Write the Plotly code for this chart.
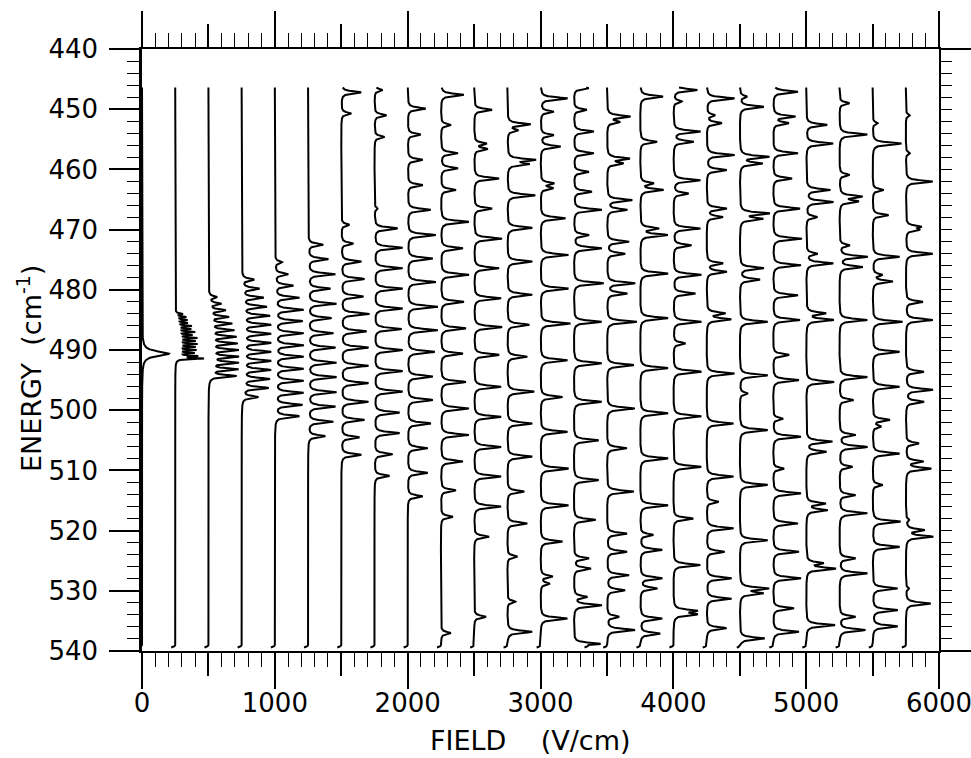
import numpy as np
import plotly.graph_objects as go

# Electric field at which each spectrum was recorded (V/cm)
fields = [0, 250, 500, 750, 1000, 1250, 1500, 1750, 2000, 2250, 2500, 2750,
          3000, 3250, 3500, 3750, 4000, 4250, 4500, 4750, 5000, 5250, 5500, 5750]

# Line positions (cm^-1) and peak signal (arb. units) for each spectrum
p0000 = [(490.6, 27)]
p0250 = [(484.0, 7), (484.5, 10), (485.0, 11), (485.5, 11), (486.0, 15), (486.5, 14),
         (487.0, 18), (487.5, 15), (488.0, 20), (488.5, 18), (489.0, 20), (489.5, 18),
         (490.0, 19), (490.5, 17), (491.0, 20), (491.4, 27)]
p0500 = [(481.2, 8), (482.3, 12), (483.4, 16), (484.5, 19), (485.6, 22), (486.7, 24),
         (487.8, 26), (488.9, 27), (490.0, 28), (491.1, 28), (492.1, 28), (493.2, 28),
         (494.3, 27)]
p0750 = [(478.3, 12), (479.8, 17), (481.3, 21), (482.8, 24), (484.3, 27), (485.8, 28),
         (487.3, 28), (488.8, 28), (490.3, 28), (491.8, 28), (493.3, 28), (494.8, 27),
         (496.3, 26), (497.8, 16)]
p1000 = [(475.4, 7), (477.4, 13), (479.3, 18), (481.3, 24), (483.3, 28), (485.2, 27),
         (487.2, 28), (489.2, 28), (491.1, 28), (493.1, 28), (495.1, 28), (497.1, 28),
         (499.1, 27), (501.0, 24)]
p1250 = [(472.5, 15), (474.9, 20), (477.4, 27), (479.8, 22), (482.3, 28), (484.7, 23),
         (487.2, 25), (489.6, 27), (492.1, 28), (494.5, 28), (497.0, 28), (499.4, 27),
         (501.9, 25), (504.3, 17)]
p1500 = [(447.2, 20), (450.7, 10), (469.2, 8), (472.3, 12), (475.3, 20), (478.2, 23),
         (481.1, 22), (484.0, 28), (486.9, 25), (489.6, 27), (492.6, 27), (495.5, 27),
         (498.6, 27), (501.6, 23), (504.5, 18), (507.4, 20)]
p1750 = [(446.8, 8), (451.0, 12), (454.6, 10), (466.5, 3), (469.8, 23), (473.0, 28),
         (476.4, 28), (479.8, 28), (483.1, 28), (486.5, 27), (490.0, 28), (493.5, 28),
         (496.9, 28), (500.4, 25), (503.8, 25), (507.3, 18), (510.9, 15)]
p2000 = [(449.9, 18), (454.2, 13), (458.4, 15), (462.6, 15), (466.7, 23), (470.9, 28),
         (474.8, 25), (478.7, 28), (482.8, 30), (486.7, 30), (490.3, 27), (494.4, 25),
         (498.3, 25), (502.2, 23), (506.3, 20), (510.4, 20), (514.3, 15)]
p2250 = [(447.6, 23), (452.6, 10), (457.3, 17), (459.8, 17), (463.4, 15), (468.7, 28),
         (473.1, 22), (477.5, 28), (482.0, 23), (486.4, 25), (490.6, 22), (495.3, 25),
         (499.7, 28), (504.1, 28), (508.5, 22), (513.3, 15), (517.7, 12), (537.0, 10)]
p2500 = [(450.1, 18), (455.7, 12), (456.6, 13), (461.5, 25), (466.5, 18), (471.5, 28),
         (476.4, 25), (481.4, 27), (486.2, 28), (490.8, 25), (496.1, 27), (501.1, 27),
         (506.1, 27), (511.0, 27), (516.0, 27), (521.0, 15), (534.3, 12)]
p2750 = [(452.5, 23), (453.5, 10), (458.4, 27), (459.1, 20), (464.3, 28), (469.7, 25),
         (475.3, 25), (480.8, 25), (485.8, 22), (491.1, 20), (496.9, 27), (502.2, 25),
         (507.7, 25), (513.5, 17), (518.8, 20), (524.3, 10), (531.8, 8), (536.8, 25)]
p3000 = [(448.2, 27), (450.4, 13), (454.3, 13), (456.2, 20), (462.3, 13), (463.1, 12),
         (468.1, 25), (474.2, 28), (479.8, 28), (485.6, 30), (491.7, 27), (497.8, 22),
         (503.6, 27), (509.7, 28), (515.8, 28), (521.8, 22), (527.6, 12), (528.8, 9),
         (534.6, 27)]
p3250 = [(446.5, 15), (450.1, 13), (453.7, 20), (457.3, 20), (460.4, 15), (463.7, 18),
         (466.7, 28), (470.9, 15), (473.1, 28), (478.9, 30), (485.3, 28), (492.2, 28),
         (498.6, 28), (505.0, 25), (511.6, 25), (518.2, 22), (524.6, 15), (526.3, 17),
         (531.0, 13), (532.4, 28), (538.8, 27)]
p3500 = [(451.2, 23), (452.1, 12), (458.2, 22), (459.0, 15), (465.1, 25), (466.7, 20),
         (472.0, 22), (474.0, 18), (478.9, 28), (480.6, 20), (485.3, 30), (492.5, 27),
         (499.7, 28), (506.3, 20), (513.5, 27), (520.5, 20), (523.5, 20), (527.4, 22),
         (529.9, 18), (534.3, 12), (536.5, 28)]
p3750 = [(447.9, 23), (455.4, 17), (462.3, 13), (463.4, 23), (469.8, 18), (470.9, 27),
         (477.3, 28), (484.7, 28), (493.0, 28), (500.5, 28), (508.0, 28), (515.8, 28),
         (520.7, 13), (523.2, 22), (527.9, 22), (529.6, 17), (534.6, 22), (537.1, 20)]
p4000 = [(446.8, 24), (448.7, 8), (453.7, 27), (455.4, 20), (461.8, 27), (464.0, 15),
         (469.8, 27), (472.6, 18), (477.5, 28), (480.6, 22), (485.3, 28), (488.9, 12),
         (493.6, 28), (501.0, 28), (509.4, 28), (518.0, 20), (525.7, 27), (533.3, 22),
         (533.9, 22)]
p4250 = [(448.2, 28), (451.0, 8), (452.3, 15), (457.6, 28), (460.1, 20), (466.5, 20),
         (467.9, 16), (475.6, 16), (477.0, 20), (483.9, 18), (484.9, 24), (493.9, 28),
         (502.2, 27), (511.0, 27), (515.2, 12), (519.6, 27), (523.5, 18), (527.9, 25),
         (531.3, 25), (536.2, 20)]
p4500 = [(447.9, 7), (449.6, 24), (457.9, 29), (459.0, 22), (467.3, 29), (468.2, 22),
         (476.4, 24), (478.3, 20), (485.3, 28), (494.2, 28), (497.2, 8), (503.3, 28),
         (512.4, 28), (521.6, 28), (529.6, 28), (530.4, 22), (537.9, 25)]
p4750 = [(447.1, 25), (451.2, 22), (452.3, 15), (457.3, 25), (461.5, 19), (466.5, 27),
         (471.5, 29), (475.9, 28), (480.9, 25), (485.0, 27), (490.8, 16), (495.0, 26),
         (501.4, 10), (504.4, 28), (509.7, 11), (513.8, 28), (518.8, 25), (523.5, 26),
         (527.9, 28), (532.9, 21), (536.8, 26)]
p5000 = [(452.6, 21), (455.7, 27), (463.4, 24), (465.4, 27), (467.9, 11), (474.0, 11),
         (475.6, 27), (483.9, 19), (485.0, 27), (495.3, 28), (505.2, 26), (506.9, 20),
         (515.5, 19), (516.6, 21), (525.4, 16), (526.3, 29), (535.7, 29)]
p5250 = [(449.0, 10), (454.2, 28), (460.9, 10), (464.5, 22), (465.3, 18), (472.6, 10),
         (474.5, 28), (476.2, 23), (485.0, 28), (494.5, 28), (498.3, 14), (504.1, 16),
         (506.1, 28), (509.4, 13), (514.1, 16), (517.1, 28), (524.6, 16), (527.1, 28),
         (534.3, 16), (536.5, 26)]
p5500 = [(452.3, 5), (455.7, 29), (463.4, 11), (467.6, 16), (474.5, 27), (477.5, 9),
         (478.6, 20), (485.3, 30), (490.3, 27), (496.1, 27), (501.6, 17), (502.7, 8),
         (507.2, 27), (512.4, 10), (518.5, 28), (522.7, 27), (529.6, 25), (533.2, 25),
         (535.9, 25)]
p5750 = [(451.0, 4), (457.3, 4), (462.0, 27), (469.5, 14), (470.0, 12), (474.0, 27),
         (482.0, 17), (485.0, 27), (493.6, 18), (496.6, 27), (498.6, 18), (505.5, 13),
         (508.5, 17), (509.7, 25), (518.2, 3), (519.9, 18), (521.0, 27), (529.6, 3),
         (532.1, 25)]

spectra = [p0000, p0250, p0500, p0750, p1000, p1250, p1500, p1750, p2000, p2250,
           p2500, p2750, p3000, p3250, p3500, p3750, p4000, p4250, p4500, p4750,
           p5000, p5250, p5500, p5750]

# Lorentzian half-width (cm^-1) of the lines in each spectrum
hwhm = [0.45, 0.11, 0.2, 0.22, 0.22, 0.22, 0.22, 0.22, 0.22, 0.22, 0.22, 0.22,
        0.22, 0.22, 0.22, 0.22, 0.22, 0.22, 0.22, 0.22, 0.22, 0.22, 0.22, 0.22]

# Axis ticks
energy_ticks = list(range(440, 541, 10))
field_ticks = list(range(0, 6001, 1000))
field_half_ticks = list(range(500, 6000, 1000))
field_minor_ticks = list(range(0, 6001, 100))

GAIN = 7.5            # V/cm of horizontal offset per unit of signal
E_START, E_END = 446.4, 539.0

fig = go.Figure()
energy = np.arange(E_START, E_END + 1e-9, 0.02)
for f, lines, g in zip(fields, spectra, hwhm):
    sig = np.zeros_like(energy)
    for e0, a in lines:
        sig += a * g * g / ((energy - e0) ** 2 + g * g)
    x = f + GAIN * sig
    # small leftward hook where the pen lifts at the end of each scan
    xs = np.concatenate([x, [x[-1] - 6, x[-1] - 18, x[-1] - 30]])
    ys = np.concatenate([energy, [E_END + 0.2, E_END + 0.35, E_END + 0.42]])
    fig.add_trace(go.Scatter(x=xs, y=ys, mode="lines",
                             line=dict(color="black", width=2),
                             hoverinfo="skip", showlegend=False))

FONT = "DejaVu Sans"
tick_font = dict(family=FONT, size=26, color="black")

fig.update_layout(
    width=971, height=758,
    margin=dict(l=142, r=32, t=49, b=107, autoexpand=False),
    paper_bgcolor="white", plot_bgcolor="white",
    showlegend=False,
    # main field axis: long ticks every 1000, short ticks every 100, mirrored on top
    xaxis=dict(range=[0, 6000], showgrid=False, zeroline=False,
               showline=True, linecolor="black", linewidth=2,
               automargin=False,
               ticks="outside", tickmode="array", tickvals=field_ticks,
               ticklen=36, tickwidth=1.6, tickcolor="black",
               mirror="ticks", showticklabels=False,
               minor=dict(tickmode="array", tickvals=field_minor_ticks,
                          ticks="outside", ticklen=14,
                          tickwidth=1.4, tickcolor="black")),
    # medium ticks at the half-thousands
    xaxis2=dict(range=[0, 6000], overlaying="x", anchor="y", side="bottom",
                showgrid=False, zeroline=False, showline=False,
                automargin=False,
                ticks="outside", tickmode="array", tickvals=field_half_ticks,
                ticklen=24, tickwidth=1.5, tickcolor="black", mirror="ticks",
                showticklabels=False),
    # field tick labels
    xaxis3=dict(range=[0, 6000], overlaying="x", anchor="y", side="bottom",
                showgrid=False, zeroline=False, showline=False,
                automargin=False,
                ticks="outside", tickmode="array", tickvals=field_ticks,
                ticktext=[str(v) for v in field_ticks],
                ticklen=29, tickwidth=1, tickcolor="rgba(0,0,0,0)",
                tickfont=tick_font, ticklabeloverflow="allow"),
    yaxis=dict(range=[540, 440], showgrid=False, zeroline=False,
               showline=True, linecolor="black", linewidth=2.5,
               automargin=False,
               ticks="outside", tickmode="array", tickvals=energy_ticks,
               ticktext=[str(v) for v in energy_ticks],
               ticklen=30, tickwidth=1.6, tickcolor="black",
               tickfont=tick_font, ticklabelstandoff=6,
               minor=dict(dtick=2, tick0=440, ticks="outside", ticklen=12,
                          tickwidth=1.4, tickcolor="black")),
    yaxis2=dict(range=[540, 440], overlaying="y", anchor="x", side="right",
                showgrid=False, zeroline=False, automargin=False,
                showline=True, linecolor="black", linewidth=2,
                ticks="outside", tick0=440, dtick=2, ticklen=11,
                tickwidth=1.4, tickcolor="black", showticklabels=False),
    shapes=[
        dict(type="line", xref="paper", yref="paper", x0=1, x1=1.05, y0=1, y1=1,
             line=dict(color="black", width=2)),
        dict(type="line", xref="paper", yref="paper", x0=1, x1=1.05, y0=0, y1=0,
             line=dict(color="black", width=2)),
    ],
    annotations=[
        dict(text="ENERGY\u00a0\u00a0(cm<sup>-1</sup>)", textangle=-90,
             xref="paper", yref="paper", x=-0.1418, y=0.47,
             xanchor="center", yanchor="middle",
             showarrow=False, font=dict(family=FONT, size=27, color="black")),
        dict(text="FIELD\u00a0\u00a0\u00a0\u00a0(V/cm)",
             xref="paper", yref="paper", x=0.487, y=-0.148,
             xanchor="center", yanchor="middle",
             showarrow=False, font=dict(family=FONT, size=27, color="black")),
    ],
)

# empty traces so the overlay axes are drawn
fig.add_trace(go.Scatter(x=[None], y=[None], xaxis="x2", yaxis="y",
                         showlegend=False, hoverinfo="skip"))
fig.add_trace(go.Scatter(x=[None], y=[None], xaxis="x3", yaxis="y",
                         showlegend=False, hoverinfo="skip"))
fig.add_trace(go.Scatter(x=[None], y=[None], xaxis="x", yaxis="y2",
                         showlegend=False, hoverinfo="skip"))

fig.write_html("out.html")
